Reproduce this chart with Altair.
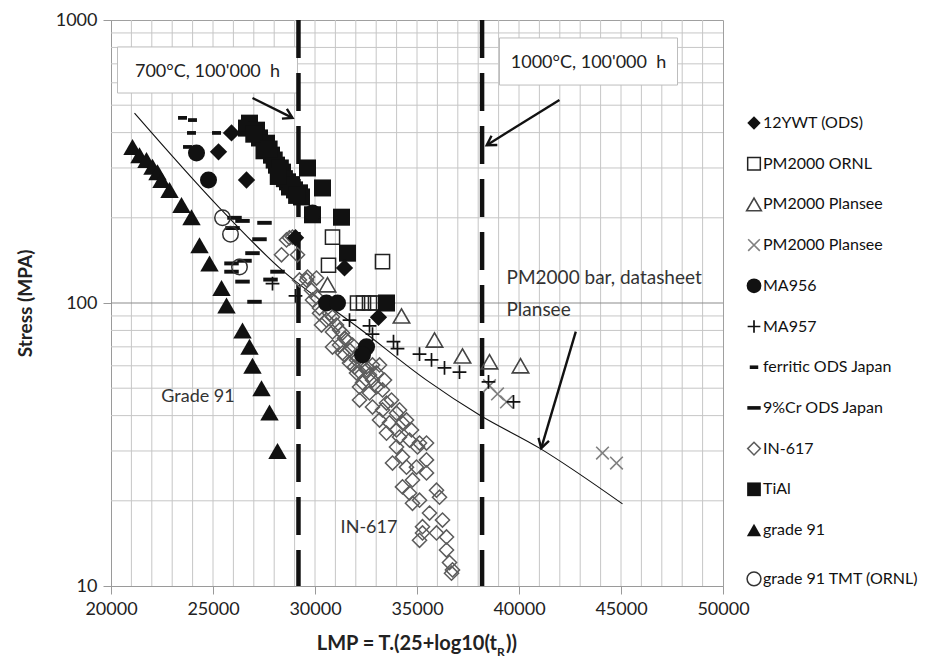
import altair as alt
import pandas as pd

FONT = "Lato"
W, H = 612, 566
INK = "#111111"

# ---------------- axes / grid values ----------------
x_ticks = [20000, 25000, 30000, 35000, 40000, 45000, 50000]
y_ticks = [10, 100, 1000]
x_grid = [21000, 22000, 23000, 24000, 25000, 26000, 27000, 28000, 29000, 30000,
          31000, 32000, 33000, 34000, 35000, 36000, 37000, 38000, 39000, 40000,
          41000, 42000, 43000, 44000, 45000, 46000, 47000, 48000, 49000]
y_grid = [20, 30, 40, 50, 60, 70, 80, 90, 200, 300, 400, 500, 600, 700, 800, 900]
y_grid_major = [100]

# ---------------- data series (LMP, stress MPa) ----------------
ywt_lmp = [25907, 25270, 26642, 29044, 31446, 33112]
ywt_s = [399, 342, 272, 170, 133, 89]

pm_ornl_lmp = [30858, 30662, 33309, 32084, 32378, 32672, 32966]
pm_ornl_s = [171, 136, 140, 100, 100, 100, 100]

pm_pl_tri_lmp = [30613, 34240, 35858, 37230, 38554, 40074]
pm_pl_tri_s = [116, 90, 74, 65, 62, 60]

pm_pl_x_lmp = [38554, 38946, 39387, 44093, 44779]
pm_pl_x_s = [51, 47.7, 44.7, 29.5, 27.2]

ma956_lmp = [24191, 24780, 29877, 30564, 31103, 32525, 32329]
ma956_s = [339, 272, 208, 100, 100, 70, 65.5]

ma957_lmp = [27917, 29044, 31691, 32672, 32819, 33848, 34044, 35123, 35711, 36348, 37083, 38505, 39730]
ma957_s = [117, 106, 87, 83, 77.6, 73, 69, 66, 63, 59, 57, 52.6, 44.7]

ferritic_lmp = [23505, 23995, 23946, 25172, 23750]
ferritic_s = [451, 443, 399, 399, 356]

cr9_lmp = [26054, 26446, 25956, 27524, 27279, 26936, 26544, 25907, 25907, 26446, 27034, 28162, 27819]
cr9_s = [200, 195, 184, 192, 168, 150, 141, 138, 129, 119, 101, 129, 121]

in617_lmp = [28750, 29142, 28358, 28603, 28897, 29632, 30074, 29828, 29240, 29877,
             30221, 30711, 30564, 31054, 30858, 31348, 31544, 31201, 31691, 32034,
             32525, 32181, 32672, 33015, 32819, 30858, 31348, 31691, 32034, 32329,
             32181, 32672, 33015, 32819, 33309, 33162, 33652, 33505, 33995, 34289,
             34632, 35123, 35466, 33995, 34289, 33799, 34485, 34975, 35466, 35466,
             34779, 34289, 34632, 35123, 34779, 35956, 36103, 35613, 36250, 35956,
             35270, 35123, 35270, 36446, 36446, 36593, 36691, 36740,
             29583, 30074, 30221, 30858, 31201, 31446, 32034, 32525, 32819, 32181,
             33309, 33505, 33995, 34485, 30319, 31838, 32427, 33162, 33407, 33750,
             34142, 34730, 35025, 34142, 31446, 31936]
in617_s = [170, 148, 148, 167, 171, 123.5, 122.5, 111, 120.6, 102.5,
           96, 92, 87, 83.6, 79, 78.3, 74, 71, 68.2, 62.9,
           59.4, 57.1, 55.7, 56.6, 60.4, 69.9, 66.6, 61.4, 56.6, 52.2,
           45.4, 48.1, 50.5, 42.9, 41.9, 38.6, 37.7, 34.7, 35.6, 37.7,
           32.8, 32, 32, 31, 28.6, 27.2, 26.3, 26.3, 27.9, 25.1,
           23.7, 22.4, 21.3, 20.1, 19.6, 21.8, 20.6, 18.1, 17.1, 15.4,
           15.4, 14.5, 16.2, 14.9, 13.4, 12.1, 11.1, 11.4,
           120.6, 105, 92, 89.2, 80.3, 75, 64.5, 58, 53.4, 50.5,
           49.3, 44.3, 40.8, 38.6, 83.6, 71, 66.6, 60.4, 53.4, 45.4,
           41.9, 35.6, 31, 33.6, 65.5, 59.4]

tial_lmp = [26642, 26789, 27132, 27279, 27622, 27867, 28113, 28407, 28652, 28995,
            28750, 29240, 29338, 29632, 30368, 29877, 31299, 31593, 33504,
            27000, 27500, 28000, 28300, 28500, 28850, 29100, 27750, 28200]
tial_s = [415, 432, 408, 383, 367, 333, 307, 290, 268, 251,
          257, 245, 237, 300, 255, 205, 201, 150, 100,
          395, 345, 320, 300, 275, 262, 240, 350, 280]

g91_lmp = [21054, 21397, 21740, 22034, 22279, 22476, 22868, 23456, 23946, 24338,
           24828, 25417, 25662, 26446, 26789, 26936, 27377, 27770, 28162]
g91_s = [356, 333, 320, 303, 290, 272, 251, 222, 201, 160,
         138, 113, 98, 80, 70, 60, 50, 41, 30]

tmt_lmp = [25466, 25858, 26299]
tmt_s = [200, 175, 134]

# PM2000 bar datasheet curve
curve_lmp = [21152, 25319, 28260, 32280, 35466, 38064, 41005, 45073]
curve_s = [469, 217, 133, 80.3, 53.4, 40.2, 30.7, 19.5]

# reference lines: 700 C and 1000 C for 100'000 h
ref_lmp = [29190, 38190]

# annotation boxes and texts
box_lmp = [20319, 39044]
box_lmp2 = [29142, 47770]
box_s = [803, 864]
box_s2 = [552, 589]
box_text = ["700°C, 100'000\u00a0 h", "1000°C, 100'000\u00a0 h"]
box_text_lmp = [24730, 43407]
box_text_s = [655, 705]

note_c_text = ["Grade 91", "IN-617"]
note_c_lmp = [24265, 32647]
note_c_s = [46.6, 16.0]
note_l_text = ["PM2000 bar, datasheet", "Plansee"]
note_l_lmp = [39388, 39388]
note_l_s = [122.6, 94.4]

# arrows: tail -> head
arr_lmp = [26936, 41982, 42784]
arr_s = [530, 522, 79.2]
arr_lmp2 = [28897, 38417, 41090]
arr_s2 = [451, 361, 30.7]
arr_angle = [27, 148, 106]

# legend entries
legend_labels = ["12YWT (ODS)", "PM2000 ORNL", "PM2000 Plansee", "PM2000 Plansee",
                 "MA956", "MA957", "ferritic ODS Japan", "9%Cr ODS Japan",
                 "IN-617", "TiAl", "grade 91", "grade 91 TMT (ORNL)"]
legend_slot = [0, 1, 2, 3, 4, 5, 6, 7, 8, 9, 10, 11.2]

# ---------------- styles ----------------
PLUS = "M-1,0L1,0M0,-1L0,1"
CROSS = "M-1,-1L1,1M-1,1L1,-1"
DASH_LONG = "M-1,-0.27L1,-0.27L1,0.27L-1,0.27Z"
DASH_SHORT = "M-1,-0.42L1,-0.42L1,0.42L-1,0.42Z"
HEAD = "M-1,-0.6L0,0L-1,0.6"

styles = [
    dict(shape="diamond", filled=True, color=INK, size=300, sw=1),
    dict(shape="square", filled=False, color="#222", size=200, sw=1.5),
    dict(shape="triangle-up", filled=False, color="#444", size=270, sw=1.6),
    dict(shape=CROSS, filled=False, color="#808080", size=160, sw=1.6),
    dict(shape="circle", filled=True, color=INK, size=290, sw=1),
    dict(shape=PLUS, filled=False, color=INK, size=190, sw=1.7),
    dict(shape=DASH_SHORT, filled=True, color=INK, size=80, sw=0),
    dict(shape=DASH_LONG, filled=True, color=INK, size=210, sw=0),
    dict(shape="diamond", filled=False, color="#5c5c5c", size=200, sw=1.5),
    dict(shape="square", filled=True, color=INK, size=290, sw=1),
    dict(shape="triangle-up", filled=True, color=INK, size=340, sw=1),
    dict(shape="circle", filled=False, color="#333", size=240, sw=1.5),
]
legend_scale = [0.6, 0.8, 0.8, 0.85, 0.75, 0.85, 0.9, 0.85, 0.8, 0.65, 0.6, 0.8]
series = [
    (ywt_lmp, ywt_s), (pm_ornl_lmp, pm_ornl_s), (pm_pl_tri_lmp, pm_pl_tri_s),
    (pm_pl_x_lmp, pm_pl_x_s), (ma956_lmp, ma956_s), (ma957_lmp, ma957_s),
    (ferritic_lmp, ferritic_s), (cr9_lmp, cr9_s), (in617_lmp, in617_s),
    (tial_lmp, tial_s), (g91_lmp, g91_s), (tmt_lmp, tmt_s),
]

# ---------------- scales / axes ----------------
xs = alt.Scale(domain=[20000, 50000], nice=False, zero=False)
ys = alt.Scale(type="log", domain=[10, 1000], nice=False)
xaxis = alt.Axis(values=x_ticks, format="d", grid=False, tickSize=8, tickColor="#9a9a9a",
                 domainColor="#9a9a9a", labelFont=FONT, labelFontSize=18, labelColor="#222",
                 labelPadding=6, labelFlush=False, title=None)
yaxis = alt.Axis(values=y_ticks, format="d", grid=False, tickSize=8, tickColor="#9a9a9a",
                 domainColor="#9a9a9a", labelFont=FONT, labelFontSize=18, labelColor="#222",
                 labelPadding=6, labelFlush=False, title="Stress (MPA)", titleFont=FONT,
                 titleFontSize=19, titleFontWeight="bold", titleColor="#222", titlePadding=20)


def X(f="LMP"):
    return alt.X(f"{f}:Q", scale=xs, axis=xaxis)


def Y(f="stress"):
    return alt.Y(f"{f}:Q", scale=ys, axis=yaxis)


layers = []
layers.append(alt.Chart(pd.DataFrame({"LMP": x_grid})).mark_rule(color="#c6c6c6", strokeWidth=1).encode(x=X()))
layers.append(alt.Chart(pd.DataFrame({"stress": y_grid})).mark_rule(color="#c6c6c6", strokeWidth=1).encode(y=Y()))
layers.append(alt.Chart(pd.DataFrame({"stress": y_grid_major})).mark_rule(color="#8c8c8c", strokeWidth=1.2).encode(y=Y()))

# annotation boxes
layers.append(alt.Chart(pd.DataFrame({"LMP": box_lmp, "LMP2": box_lmp2, "stress": box_s, "stress2": box_s2}))
              .mark_rect(fill="white", stroke="#bdbdbd", strokeWidth=1)
              .encode(x=X(), x2="LMP2:Q", y=Y(), y2="stress2:Q"))

# dashed reference lines
layers.append(alt.Chart(pd.DataFrame({"LMP": ref_lmp})).mark_rule(color=INK, strokeWidth=4.5, strokeDash=[38, 15])
              .encode(x=X()))

# datasheet curve
layers.append(alt.Chart(pd.DataFrame({"LMP": curve_lmp, "stress": curve_s}))
              .mark_line(color=INK, strokeWidth=1.1, interpolate="monotone")
              .encode(x=X(), y=Y()))

# data points (IN-617 first so it sits beneath)
order = [8, 3, 2, 1, 5, 6, 7, 11, 10, 9, 0, 4]
for i in order:
    st = styles[i]
    lmp, s = series[i]
    layers.append(alt.Chart(pd.DataFrame({"LMP": lmp, "stress": s})).mark_point(
        shape=st["shape"], filled=st["filled"], color=st["color"], size=st["size"],
        strokeWidth=st["sw"], opacity=1).encode(x=X(), y=Y()))

# annotation texts
layers.append(alt.Chart(pd.DataFrame({"LMP": box_text_lmp, "stress": box_text_s, "t": box_text}))
              .mark_text(font=FONT, fontSize=18, color="#222", align="center", baseline="middle")
              .encode(x=X(), y=Y(), text="t:N"))
layers.append(alt.Chart(pd.DataFrame({"LMP": note_c_lmp, "stress": note_c_s, "t": note_c_text}))
              .mark_text(font=FONT, fontSize=18, color="#333", align="center", baseline="middle")
              .encode(x=X(), y=Y(), text="t:N"))
layers.append(alt.Chart(pd.DataFrame({"LMP": note_l_lmp, "stress": note_l_s, "t": note_l_text}))
              .mark_text(font=FONT, fontSize=19, color="#333", align="left", baseline="middle")
              .encode(x=X(), y=Y(), text="t:N"))

# arrows
layers.append(alt.Chart(pd.DataFrame({"LMP": arr_lmp, "stress": arr_s, "LMP2": arr_lmp2, "stress2": arr_s2}))
              .mark_rule(color=INK, strokeWidth=2.4)
              .encode(x=X(), y=Y(), x2="LMP2:Q", y2="stress2:Q"))
for i in range(3):
    layers.append(alt.Chart(pd.DataFrame({"LMP": [arr_lmp2[i]], "stress": [arr_s2[i]]}))
                  .mark_point(shape=HEAD, filled=False, color=INK, strokeWidth=2.4, size=330,
                              angle=arr_angle[i], opacity=1)
                  .encode(x=X(), y=Y()))

# x-axis title with subscript
layers.append(alt.Chart(pd.DataFrame({"t": ["LMP = T.(25+log10(t"]})).mark_text(
    font=FONT, fontSize=20, fontWeight="bold", color="#222", align="right", baseline="alphabetic")
    .encode(x=alt.value(386), y=alt.value(630), text="t:N"))
layers.append(alt.Chart(pd.DataFrame({"t": ["R"]})).mark_text(
    font=FONT, fontSize=12, fontWeight="bold", color="#222", align="left", baseline="alphabetic")
    .encode(x=alt.value(386), y=alt.value(636), text="t:N"))
layers.append(alt.Chart(pd.DataFrame({"t": ["))"]})).mark_text(
    font=FONT, fontSize=20, fontWeight="bold", color="#222", align="left", baseline="alphabetic")
    .encode(x=alt.value(395), y=alt.value(630), text="t:N"))

plot = alt.layer(*layers)

# ---------------- manual legend ----------------
ly = alt.Scale(domain=[-2.531, 11.376], reverse=True)
leg_layers = []
for i, st in enumerate(styles):
    leg_layers.append(alt.Chart(pd.DataFrame({"slot": [legend_slot[i]]})).mark_point(
        shape=st["shape"], filled=st["filled"], color=st["color"], size=st["size"] * legend_scale[i],
        strokeWidth=st["sw"], opacity=1)
        .encode(x=alt.value(643), y=alt.Y("slot:Q", scale=ly, axis=None)))
leg_layers.append(alt.Chart(pd.DataFrame({"slot": legend_slot, "label": legend_labels})).mark_text(
    font=FONT, fontSize=16, color=INK, align="left", baseline="middle")
    .encode(x=alt.value(652), y=alt.Y("slot:Q", scale=ly, axis=None), text="label:N"))
legend = alt.layer(*leg_layers)

chart = (alt.layer(plot, legend)
         .resolve_scale(y="independent")
         .properties(width=W, height=H,
                     autosize=alt.AutoSizeParams(type="none"),
                     padding={"left": 103, "top": 12, "right": 204, "bottom": 74},
                     background="white")
         .configure_view(stroke="#a0a0a0", strokeWidth=1))

chart.save("out.html", embed_options={"renderer": "svg", "actions": False})
